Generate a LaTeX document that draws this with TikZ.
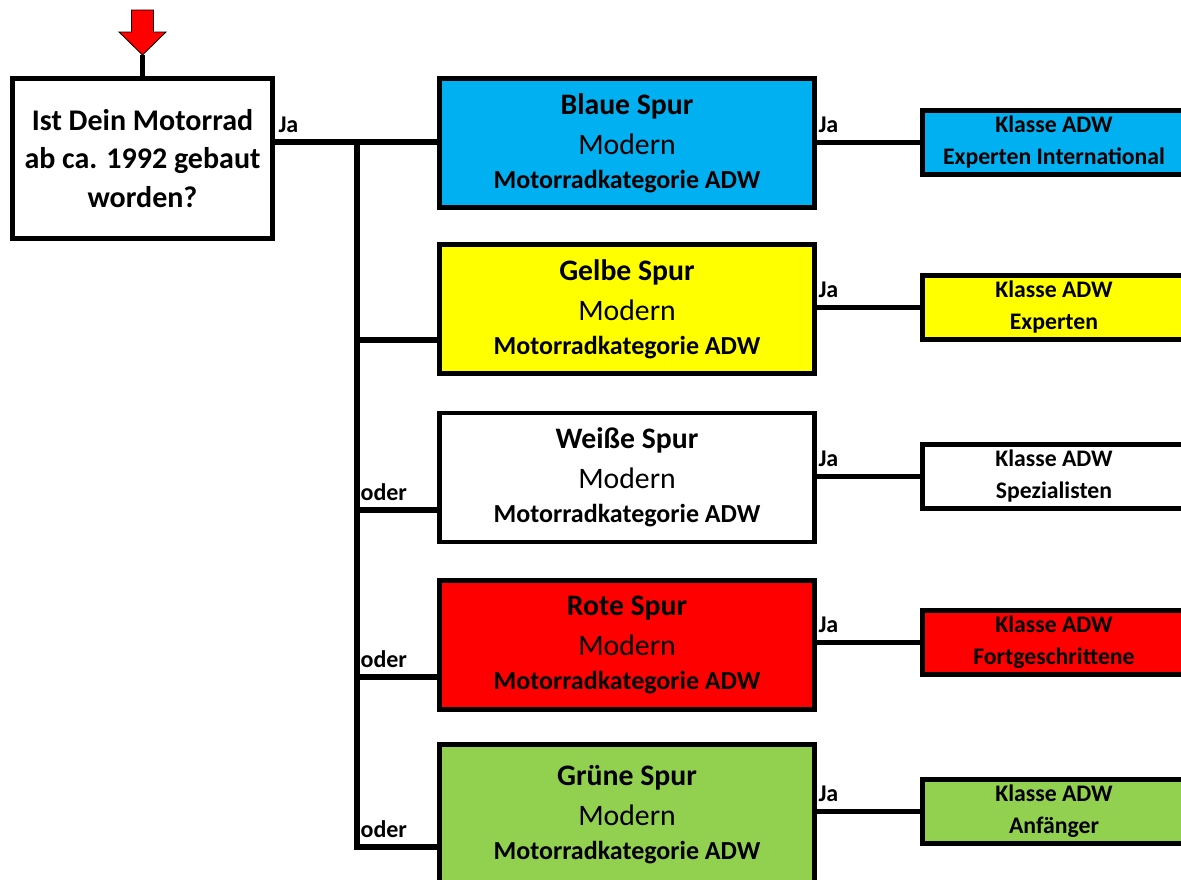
\documentclass[tikz,border=0pt]{standalone}
\usepackage{fontspec}
\setmainfont{Carlito}
\definecolor{spurblau}{HTML}{00B0F0}
\definecolor{spurgelb}{HTML}{FFFF00}
\definecolor{spurrot}{HTML}{FF0000}
\definecolor{spurgruen}{HTML}{92D050}
\tikzset{
  spur/.style={draw,line width=3.6pt,minimum width=281.25pt,minimum height=96.75pt,
    inner sep=0pt,align=center,font=\fontsize{22.3}{30}\selectfont},
  klasse/.style={draw,line width=3.6pt,minimum width=197pt,minimum height=48pt,
    inner sep=0pt,align=center,font=\fontsize{17.8}{24}\selectfont\bfseries},
  lin/.style={line width=3.8pt},
  lbl/.style={font=\fontsize{18}{20}\selectfont\bfseries,inner sep=0pt,anchor=base west}
}
\newcommand{\spurtext}[1]{\textbf{#1}\\ Modern\\[-4.5pt]
  {\fontsize{19.5}{24}\selectfont\bfseries Motorradkategorie ADW}}
\begin{document}
\begin{tikzpicture}[x=0.75pt,y=-0.75pt]
\clip (0,0) rectangle (1181,879);
% Frage
\node[draw,line width=3.6pt,minimum width=195pt,minimum height=120pt,inner sep=0pt,
  align=center,font=\fontsize{22.5}{29}\selectfont\bfseries] (frage) at (142.5,158.5)
  {Ist Dein Motorrad\\ab ca. 1992 gebaut\\worden?};
\draw[fill=red,line width=0.6pt] (131.5,10) -- (153.5,10) -- (153.5,32) -- (166,32)
  -- (142.5,55) -- (119,32) -- (131.5,32) -- cycle;
\coordinate (spitze) at (142.5,55);
\draw[lin] (spitze) -- (frage.north);
% Spuren
\node[spur,fill=spurblau] (blau) at (627,143) {\spurtext{Blaue Spur}};
\node[spur,fill=spurgelb] (gelb) at (627,309) {\spurtext{Gelbe Spur}};
\node[spur,fill=white] (weiss) at (627,477.5) {\spurtext{Weiße Spur}};
\node[spur,fill=spurrot] (rot) at (627,645) {\spurtext{Rote Spur}};
\node[spur,fill=spurgruen,minimum height=106pt] (gruen) at (627,815) {\spurtext{Grüne Spur}};
% Klassen
\node[klasse,fill=spurblau] (kblau) at (1054,142.5) {Klasse ADW\\Experten International};
\node[klasse,fill=spurgelb] (kgelb) at (1054,307.5) {Klasse ADW\\Experten};
\node[klasse,fill=white] (kweiss) at (1054,476.5) {Klasse ADW\\Spezialisten};
\node[klasse,fill=spurrot] (krot) at (1054,642.5) {Klasse ADW\\Fortgeschrittene};
\node[klasse,fill=spurgruen] (kgruen) at (1054,811.5) {Klasse ADW\\Anfänger};
% Verteiler
\coordinate (bus0) at (357,142);
\coordinate (bus1) at (357,340);
\coordinate (bus2) at (357,510);
\coordinate (bus3) at (357,677);
\coordinate (bus4) at (357,847);
\draw[lin] (frage.east |- bus0) -- (blau.west |- bus0);
\draw[lin] (bus0) -- (bus4);
\draw[lin] (bus1) -- (gelb.west |- bus1);
\draw[lin] (bus2) -- (weiss.west |- bus2);
\draw[lin] (bus3) -- (rot.west |- bus3);
\draw[lin] ([xshift=-1.9pt]bus4) -- (gruen.west |- bus4);
\path (frage.east |- bus0) node[lbl,xshift=2.5pt,yshift=7.5pt]{Ja};
\path (bus2) node[lbl,xshift=2.5pt,yshift=7.5pt]{oder};
\path (bus3) node[lbl,xshift=2.5pt,yshift=7.5pt]{oder};
\path (bus4) node[lbl,xshift=2.5pt,yshift=7.5pt]{oder};
% Ja-Zweige
\draw[lin] (blau.east |- kblau.west) -- (kblau.west);
\draw[lin] (gelb.east |- kgelb.west) -- (kgelb.west);
\draw[lin] (weiss.east |- kweiss.west) -- (kweiss.west);
\draw[lin] (rot.east |- krot.west) -- (krot.west);
\draw[lin] (gruen.east |- kgruen.west) -- (kgruen.west);
\path (blau.east |- kblau.west) node[lbl,xshift=1pt,yshift=7.5pt]{Ja};
\path (gelb.east |- kgelb.west) node[lbl,xshift=1pt,yshift=7.5pt]{Ja};
\path (weiss.east |- kweiss.west) node[lbl,xshift=1pt,yshift=7.5pt]{Ja};
\path (rot.east |- krot.west) node[lbl,xshift=1pt,yshift=7.5pt]{Ja};
\path (gruen.east |- kgruen.west) node[lbl,xshift=1pt,yshift=7.5pt]{Ja};
\end{tikzpicture}
\end{document}
